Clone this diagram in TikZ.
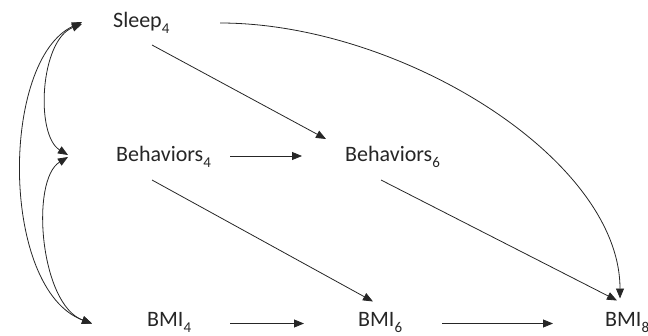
\documentclass[tikz,border=0pt]{standalone}
\usepackage{fontspec}
\setmainfont{Carlito}
\usetikzlibrary{arrows.meta}
\newcommand\wavesub[1]{\raisebox{-6pt}{\fontsize{15}{15}\selectfont #1}}
\tikzset{%
  var/.style    = {anchor=base west, inner sep=0pt, text=black!85,%
                   font=\fontsize{22}{26}\selectfont},%
  arr/.style    = {-{Triangle[length=10pt,width=8pt]}, line width=0.8pt, draw=black!85},%
  bidir/.style  = {{Triangle[length=10pt,width=8pt]}-{Triangle[length=10pt,width=8pt]},%
                   line width=0.8pt, draw=black!85}%
}
\begin{document}
\begin{tikzpicture}[x=1pt,y=-1pt]%
	\useasboundingbox (0,0) rectangle (648,335);
	% variables
	\node[var] (S4) at (113,27)  {Sleep\wavesub{4}};
	\node[var] (B4) at (116,161) {Behaviors\wavesub{4}};
	\node[var] (B6) at (345,161) {Behaviors\wavesub{6}};
	\node[var] (M4) at (147,326.5) {BMI\wavesub{4}};
	\node[var] (M6) at (358,326.5) {BMI\wavesub{6}};
	\node[var] (M8) at (605,326.5) {BMI\wavesub{8}};
	% paths
	\draw[arr] ([shift={(114,-5)}]B4.base west) -- ([shift={(-43,-5)}]B6.base west);
	\draw[arr] ([shift={(83,-3)}]M4.base west) -- ([shift={(-54,-3)}]M6.base west);
	\draw[arr] ([shift={(84,-3)}]M6.base west) -- ([shift={(-52,-3)}]M8.base west);
	\draw[arr] ([shift={(39,18)}]S4.base west) -- ([shift={(-19,-22)}]B6.base west);
	\draw[arr] ([shift={(36,19)}]B4.base west) -- ([shift={(15,-25)}]M6.base west);
	\draw[arr] ([shift={(36,19)}]B6.base west) -- ([shift={(12,-26)}]M8.base west);
	\draw[arr] ([shift={(107,-4)}]S4.base west)
		.. controls +(180,0) and +(0,-140) .. ([shift={(15,-28)}]M8.base west);
	% correlations
	\draw[bidir] ([shift={(-31,-3)}]S4.base west)
		.. controls +(-42,16) and +(-33,-20) .. ([shift={(-48,-6)}]B4.base west);
	\draw[bidir] ([shift={(-48,-4)}]B4.base west)
		.. controls +(-38,23) and +(-52,-19) .. ([shift={(-55,-3)}]M4.base west);
	\draw[bidir] ([shift={(-31,-5)}]S4.base west)
		.. controls +(-82,38) and +(-92,-34) .. ([shift={(-55,-3)}]M4.base west);
\end{tikzpicture}
\end{document}
